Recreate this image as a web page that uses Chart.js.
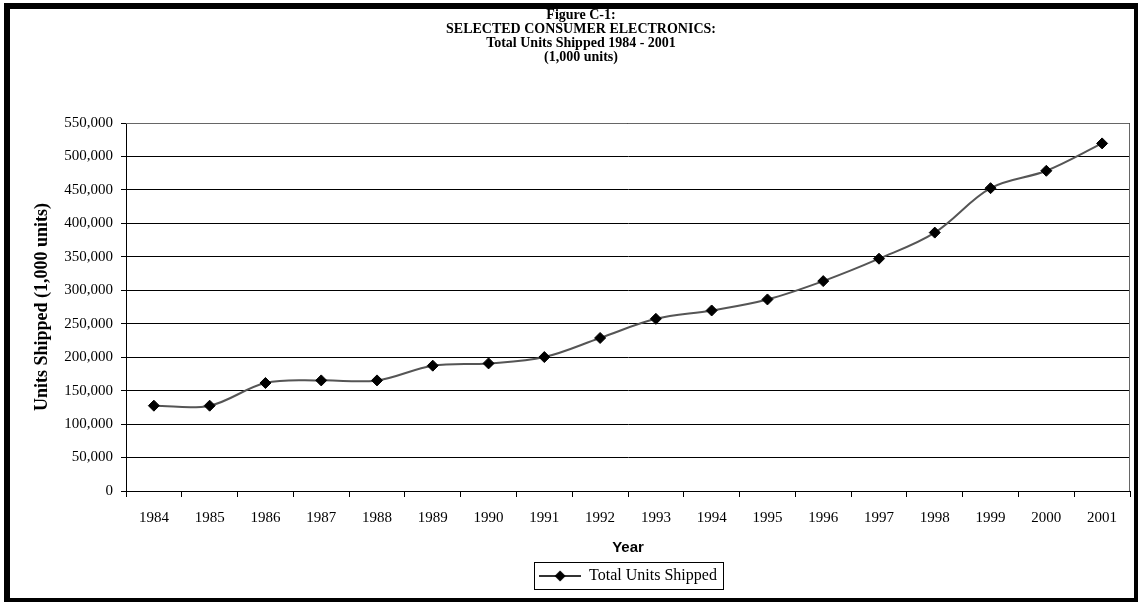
<!DOCTYPE html>
<html>
<head>
<meta charset="utf-8">
<script src="https://cdn.jsdelivr.net/npm/chart.js@4.4.1/dist/chart.umd.min.js"></script>
<style>
  html, body { margin: 0; padding: 0; background: #fff; }
  #wrap { position: relative; width: 1138px; height: 602px; background: #fff; }
  #frame { position: absolute; left: 4px; top: 3px; right: 0; bottom: 0; box-sizing: border-box;
           border-left: 6px solid #000; border-top: 6px solid #000; border-right: 4px solid #000; border-bottom: 4px solid #000;
           pointer-events: none; }
</style>
</head>
<body>
<div id="wrap">
  <canvas id="unitsCanvas" width="1138" height="602"></canvas>
  <div id="frame"></div>
</div>
<script>
// values (1,000 units)
const years = ['1984', '1985', '1986', '1987', '1988', '1989', '1990', '1991', '1992',
               '1993', '1994', '1995', '1996', '1997', '1998', '1999', '2000', '2001'];
const unitsShipped = [127500, 127500, 161400, 165300, 165300, 187300, 190700, 200200, 228700,
                      257300, 269800, 286300, 313700, 347200, 386200, 452600, 478600, 519500];
const yMin = 0;
const yMax = 550000;
const yStep = 50000;
const titleLines = ['Figure C-1:', 'SELECTED CONSUMER ELECTRONICS:', 'Total Units Shipped 1984 - 2001', '(1,000 units)'];
const seriesName = 'Total Units Shipped';

const serif = "'Liberation Serif', 'Times New Roman', serif";
const sans = "'Liberation Sans', Arial, sans-serif";

// little line + diamond used as the legend symbol
function legendMarker() {
  const c = document.createElement('canvas');
  c.width = 42;
  c.height = 12;
  const g = c.getContext('2d');
  g.strokeStyle = '#333';
  g.lineWidth = 2;
  g.beginPath();
  g.moveTo(0, 6);
  g.lineTo(42, 6);
  g.stroke();
  g.fillStyle = '#000';
  g.beginPath();
  g.moveTo(21, 0.5);
  g.lineTo(26.5, 6);
  g.lineTo(21, 11.5);
  g.lineTo(15.5, 6);
  g.closePath();
  g.fill();
  return c;
}

const boxes = {
  id: 'boxes',
  beforeDatasetsDraw(chart) {
    const ctx = chart.ctx;
    const a = chart.chartArea;
    ctx.save();
    ctx.strokeStyle = '#666';
    ctx.lineWidth = 1;
    ctx.beginPath();
    ctx.moveTo(a.left, Math.round(a.top) + 0.5);
    ctx.lineTo(Math.round(a.right) - 0.5, Math.round(a.top) + 0.5);
    ctx.lineTo(Math.round(a.right) - 0.5, a.bottom);
    ctx.stroke();
    ctx.restore();
  },
  afterDraw(chart) {
    const hb = chart.legend.legendHitBoxes[0];
    if (!hb) return;
    const ctx = chart.ctx;
    ctx.save();
    ctx.strokeStyle = '#000';
    ctx.lineWidth = 1;
    ctx.strokeRect(Math.round(hb.left - 5) + 0.5, Math.round(hb.top - 6) + 0.5,
                   Math.round(hb.width + 11), Math.round(hb.height + 11));
    ctx.restore();
  }
};

const unitsChart = new Chart(document.getElementById('unitsCanvas'), {
  type: 'line',
  data: {
    labels: years,
    datasets: [{
      label: seriesName,
      data: unitsShipped,
      borderColor: '#555',
      borderWidth: 2,
      tension: 0.35,
      pointStyle: 'rectRot',
      pointRadius: 5.5,
      pointBackgroundColor: '#000',
      pointBorderColor: '#000',
      pointBorderWidth: 1,
      clip: false
    }]
  },
  options: {
    responsive: false,
    animation: false,
    layout: { padding: { left: 32, right: 8, top: 0, bottom: 8 } },
    scales: {
      x: {
        offset: true,
        grid: { display: true, drawOnChartArea: false, drawTicks: true, tickLength: 6, color: '#000', offset: true },
        border: { display: true, color: '#000', width: 1 },
        ticks: { color: '#000', font: { family: serif, size: 15 }, padding: 12, maxRotation: 0, autoSkip: false },
        title: { display: true, text: 'Year', color: '#000', font: { family: sans, size: 15, weight: 'bold' }, padding: { top: 0, bottom: 2 } }
      },
      y: {
        min: yMin,
        max: yMax,
        afterFit(scale) { scale.width = 94; },
        grid: { color: '#000', lineWidth: 1, drawTicks: true, tickLength: 5 },
        border: { display: true, color: '#000', width: 1 },
        ticks: {
          stepSize: yStep,
          color: '#000',
          font: { family: serif, size: 15 },
          padding: 8,
          callback: v => v.toLocaleString('en-US')
        },
        title: { display: true, text: 'Units Shipped (1,000 units)', color: '#000', font: { family: serif, size: 18, weight: 'bold' }, padding: { top: 0, bottom: 0 } }
      }
    },
    plugins: {
      title: {
        display: true,
        text: titleLines,
        color: '#000',
        font: { family: serif, size: 14, weight: 'bold', lineHeight: 1.0 },
        padding: { top: 8, bottom: 59 }
      },
      legend: {
        display: true,
        position: 'bottom',
        fullSize: false,
        labels: {
          usePointStyle: true,
          pointStyle: legendMarker(),
          pointStyleWidth: 42,
          color: '#000',
          font: { family: serif, size: 16 },
          padding: 9
        }
      },
      tooltip: { enabled: false }
    }
  },
  plugins: [boxes]
});
</script>
</body>
</html>
